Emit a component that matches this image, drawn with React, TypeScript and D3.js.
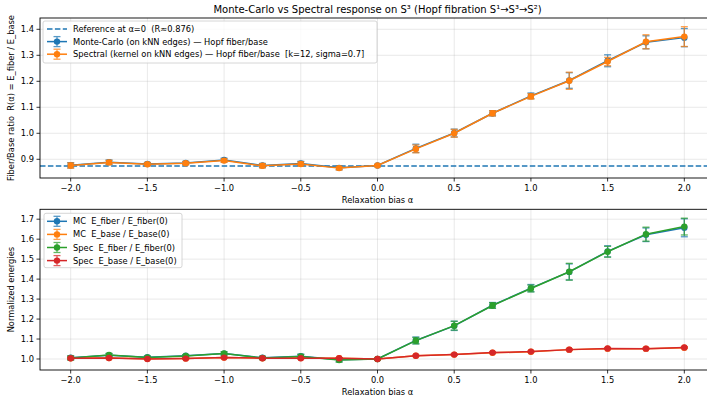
import * as d3 from "d3";
import React from "react";

// relaxation bias values
const alphas = [-2, -1.75, -1.5, -1.25, -1, -0.75, -0.5, -0.25, 0, 0.25, 0.5, 0.75, 1, 1.25, 1.5, 1.75, 2];

// top panel: fiber/base ratio
const mcRatio = [0.877, 0.889, 0.882, 0.886, 0.897, 0.876, 0.884, 0.867, 0.876, 0.942, 1.001, 1.077, 1.144, 1.203, 1.279, 1.350, 1.368];
const mcRatioErr = [0.010, 0.008, 0.006, 0.006, 0.007, 0.008, 0.008, 0.007, 0.004, 0.016, 0.015, 0.010, 0.011, 0.030, 0.023, 0.025, 0.035];
const specRatio = [0.876, 0.888, 0.881, 0.885, 0.895, 0.875, 0.882, 0.866, 0.876, 0.940, 1.000, 1.077, 1.142, 1.202, 1.276, 1.352, 1.372];
const specRatioErr = [0.010, 0.008, 0.006, 0.006, 0.007, 0.008, 0.008, 0.007, 0.004, 0.015, 0.015, 0.010, 0.010, 0.033, 0.016, 0.027, 0.038];
const refRatio = 0.876;

// bottom panel: normalized energies
const mcFiber = [1.006, 1.019, 1.009, 1.016, 1.027, 1.006, 1.014, 0.996, 1.000, 1.093, 1.166, 1.269, 1.355, 1.436, 1.539, 1.622, 1.657];
const mcFiberErr = [0.010, 0.008, 0.006, 0.006, 0.008, 0.008, 0.010, 0.010, 0.004, 0.017, 0.023, 0.014, 0.018, 0.040, 0.028, 0.034, 0.045];
const mcBase = [1.004, 1.005, 1.001, 1.003, 1.007, 1.004, 1.005, 1.004, 1.000, 1.016, 1.022, 1.031, 1.036, 1.047, 1.052, 1.052, 1.057];
const mcBaseErr = [0.004, 0.003, 0.003, 0.003, 0.003, 0.003, 0.003, 0.003, 0.002, 0.003, 0.003, 0.003, 0.003, 0.003, 0.003, 0.003, 0.003];
const specFiber = [1.005, 1.020, 1.008, 1.015, 1.028, 1.005, 1.013, 0.995, 1.000, 1.092, 1.167, 1.268, 1.353, 1.437, 1.537, 1.625, 1.663];
const specFiberErr = [0.010, 0.008, 0.006, 0.006, 0.008, 0.008, 0.010, 0.010, 0.004, 0.016, 0.022, 0.014, 0.017, 0.042, 0.027, 0.035, 0.042];
const specBase = [1.004, 1.005, 1.000, 1.002, 1.007, 1.004, 1.004, 1.004, 1.000, 1.016, 1.022, 1.032, 1.037, 1.047, 1.053, 1.052, 1.058];
const specBaseErr = [0.004, 0.003, 0.003, 0.003, 0.003, 0.003, 0.003, 0.003, 0.002, 0.003, 0.003, 0.003, 0.003, 0.003, 0.003, 0.003, 0.003];

const xTicks = [-2, -1.5, -1, -0.5, 0, 0.5, 1, 1.5, 2];
const topTicks = [0.9, 1.0, 1.1, 1.2, 1.3, 1.4];
const bottomTicks = [1.0, 1.1, 1.2, 1.3, 1.4, 1.5, 1.6, 1.7];

const W = 707, H = 399;
const FONT = "DejaVu Sans, sans-serif";
const fmt = d3.format(".1f");
const pre = { whiteSpace: "pre" as const };
const REF_BLUE = "#1f77b4";

const x = d3.scaleLinear().domain([-2.2, 2.2]).range([40, 715]);

type Series = { vals: number[]; err: number[]; color: string; label: string };

const ErrSeries = ({ s, y }: { s: Series; y: d3.ScaleLinear<number, number> }) => {
  const line = d3.line<number>().x((_, i) => x(alphas[i])).y((v) => y(v));
  return (
    <g>
      {s.vals.map((v, i) => {
        const cx = x(alphas[i]);
        const y0 = y(v - s.err[i]), y1 = y(v + s.err[i]);
        return (
          <g key={i} stroke={s.color} strokeWidth={1.3} opacity={0.75}>
            <line x1={cx} x2={cx} y1={y0} y2={y1} />
            <line x1={cx - 3.5} x2={cx + 3.5} y1={y0} y2={y0} />
            <line x1={cx - 3.5} x2={cx + 3.5} y1={y1} y2={y1} />
          </g>
        );
      })}
      <path d={line(s.vals) || ""} fill="none" stroke={s.color} strokeWidth={1.5} />
      {s.vals.map((v, i) => (
        <circle key={i} cx={x(alphas[i])} cy={y(v)} r={3.2} fill={s.color} />
      ))}
    </g>
  );
};

const LegendHandle = ({ cx, cy, color }: { cx: number; cy: number; color: string }) => (
  <g>
    <g stroke={color} strokeWidth={1.3} opacity={0.75}>
      <line x1={cx} x2={cx} y1={cy - 5} y2={cy + 5} />
      <line x1={cx - 3.5} x2={cx + 3.5} y1={cy - 5} y2={cy - 5} />
      <line x1={cx - 3.5} x2={cx + 3.5} y1={cy + 5} y2={cy + 5} />
    </g>
    <line x1={cx - 10} x2={cx + 10} y1={cy} y2={cy} stroke={color} strokeWidth={1.5} />
    <circle cx={cx} cy={cy} r={3.2} fill={color} />
  </g>
);

const Panel = ({
  top, bottom, domain, ticks, ylabel, series, legend, refLine,
}: {
  top: number; bottom: number; domain: [number, number]; ticks: number[]; ylabel: string;
  series: Series[]; legend: { x: number; y: number; w: number; h: number; rowH: number };
  refLine?: { value: number; label: string };
}) => {
  const y = d3.scaleLinear().domain(domain).range([bottom, top]);
  const left = 40, right = 715;
  const rows: { label: string; color: string; dashed?: boolean }[] = [];
  if (refLine) rows.push({ label: refLine.label, color: REF_BLUE, dashed: true });
  series.forEach((s) => rows.push({ label: s.label, color: s.color }));
  return (
    <g fontFamily={FONT}>
      {/* grid */}
      <g stroke="#b0b0b0" strokeOpacity={0.35} strokeWidth={0.8}>
        {xTicks.map((t) => <line key={t} x1={x(t)} x2={x(t)} y1={top} y2={bottom} />)}
        {ticks.map((t) => <line key={t} x1={left} x2={right} y1={y(t)} y2={y(t)} />)}
      </g>
      {refLine && (
        <line x1={left} x2={right} y1={Math.round(y(refLine.value))} y2={Math.round(y(refLine.value))}
          stroke={REF_BLUE} strokeWidth={1.5} strokeDasharray="5.5,2.4" />
      )}
      {series.map((s, i) => <ErrSeries key={i} s={s} y={y} />)}
      {/* spines */}
      <rect x={left} y={top} width={right - left} height={bottom - top} fill="none" stroke="#000" strokeWidth={0.9} />
      {/* x ticks */}
      {xTicks.map((t) => (
        <g key={t}>
          <line x1={x(t)} x2={x(t)} y1={bottom} y2={bottom + 3.5} stroke="#000" strokeWidth={0.8} />
          <text x={x(t)} y={bottom + 13} fontSize={8.3} textAnchor="middle" fill="#000">{fmt(t)}</text>
        </g>
      ))}
      {/* y ticks */}
      {ticks.map((t) => (
        <g key={t}>
          <line x1={left - 3.5} x2={left} y1={y(t)} y2={y(t)} stroke="#000" strokeWidth={0.8} />
          <text x={left - 6} y={y(t) + 3} fontSize={8.3} textAnchor="end" fill="#000">{fmt(t)}</text>
        </g>
      ))}
      <text x={(left + right) / 2} y={bottom + 25} fontSize={8.3} textAnchor="middle" fill="#000">Relaxation bias α</text>
      <text transform={`translate(14,${(top + bottom) / 2}) rotate(-90)`} fontSize={8.3} textAnchor="middle" fill="#000" style={pre}>{ylabel}</text>
      {/* legend */}
      <rect x={legend.x} y={legend.y} width={legend.w} height={legend.h} rx={2}
        fill="#fff" fillOpacity={0.8} stroke="#cccccc" strokeWidth={0.8} />
      {rows.map((r, i) => {
        const cy = legend.y + 8 + i * legend.rowH;
        return (
          <g key={i}>
            {r.dashed ? (
              <line x1={47} x2={67} y1={Math.round(cy)} y2={Math.round(cy)} stroke={r.color} strokeWidth={1.5} strokeDasharray="5.5,2.4" />
            ) : (
              <LegendHandle cx={57} cy={cy} color={r.color} />
            )}
            <text x={73} y={cy + 3} fontSize={8.3} fill="#000" style={pre}>{r.label}</text>
          </g>
        );
      })}
    </g>
  );
};

export default function App() {
  const topSeries: Series[] = [
    { vals: mcRatio, err: mcRatioErr, color: "#1f77b4", label: "Monte-Carlo (on kNN edges) — Hopf fiber/base" },
    { vals: specRatio, err: specRatioErr, color: "#ff7f0e", label: "Spectral (kernel on kNN edges) — Hopf fiber/base  [k=12, sigma=0.7]" },
  ];
  const bottomSeries: Series[] = [
    { vals: mcFiber, err: mcFiberErr, color: "#1f77b4", label: "MC  E_fiber / E_fiber(0)" },
    { vals: mcBase, err: mcBaseErr, color: "#ff7f0e", label: "MC  E_base / E_base(0)" },
    { vals: specFiber, err: specFiberErr, color: "#2ca02c", label: "Spec  E_fiber / E_fiber(0)" },
    { vals: specBase, err: specBaseErr, color: "#d62728", label: "Spec  E_base / E_base(0)" },
  ];
  return (
    <svg width={W} height={H} style={{ display: "block", position: "absolute", left: 0, top: 0, background: "#fff" }}>
      <rect width={W} height={H} fill="#fff" />
      <text x={377.5} y={13} fontSize={10} textAnchor="middle" fontFamily={FONT} fill="#000">
        Monte-Carlo vs Spectral response on S³ (Hopf fibration S¹→S³→S²)
      </text>
      <Panel top={18} bottom={178} domain={[0.828, 1.4435]} ticks={topTicks}
        ylabel="Fiber/Base ratio  R(α) = E_fiber / E_base" series={topSeries}
        legend={{ x: 43, y: 21, w: 334, h: 42, rowH: 12.6 }}
        refLine={{ value: refRatio, label: "Reference at α=0  (R≈0.876)" }} />
      <Panel top={209.3} bottom={370} domain={[0.945, 1.7495]} ticks={bottomTicks}
        ylabel="Normalized energies" series={bottomSeries}
        legend={{ x: 44, y: 213.3, w: 138, h: 54.4, rowH: 13.1 }} />
    </svg>
  );
}
